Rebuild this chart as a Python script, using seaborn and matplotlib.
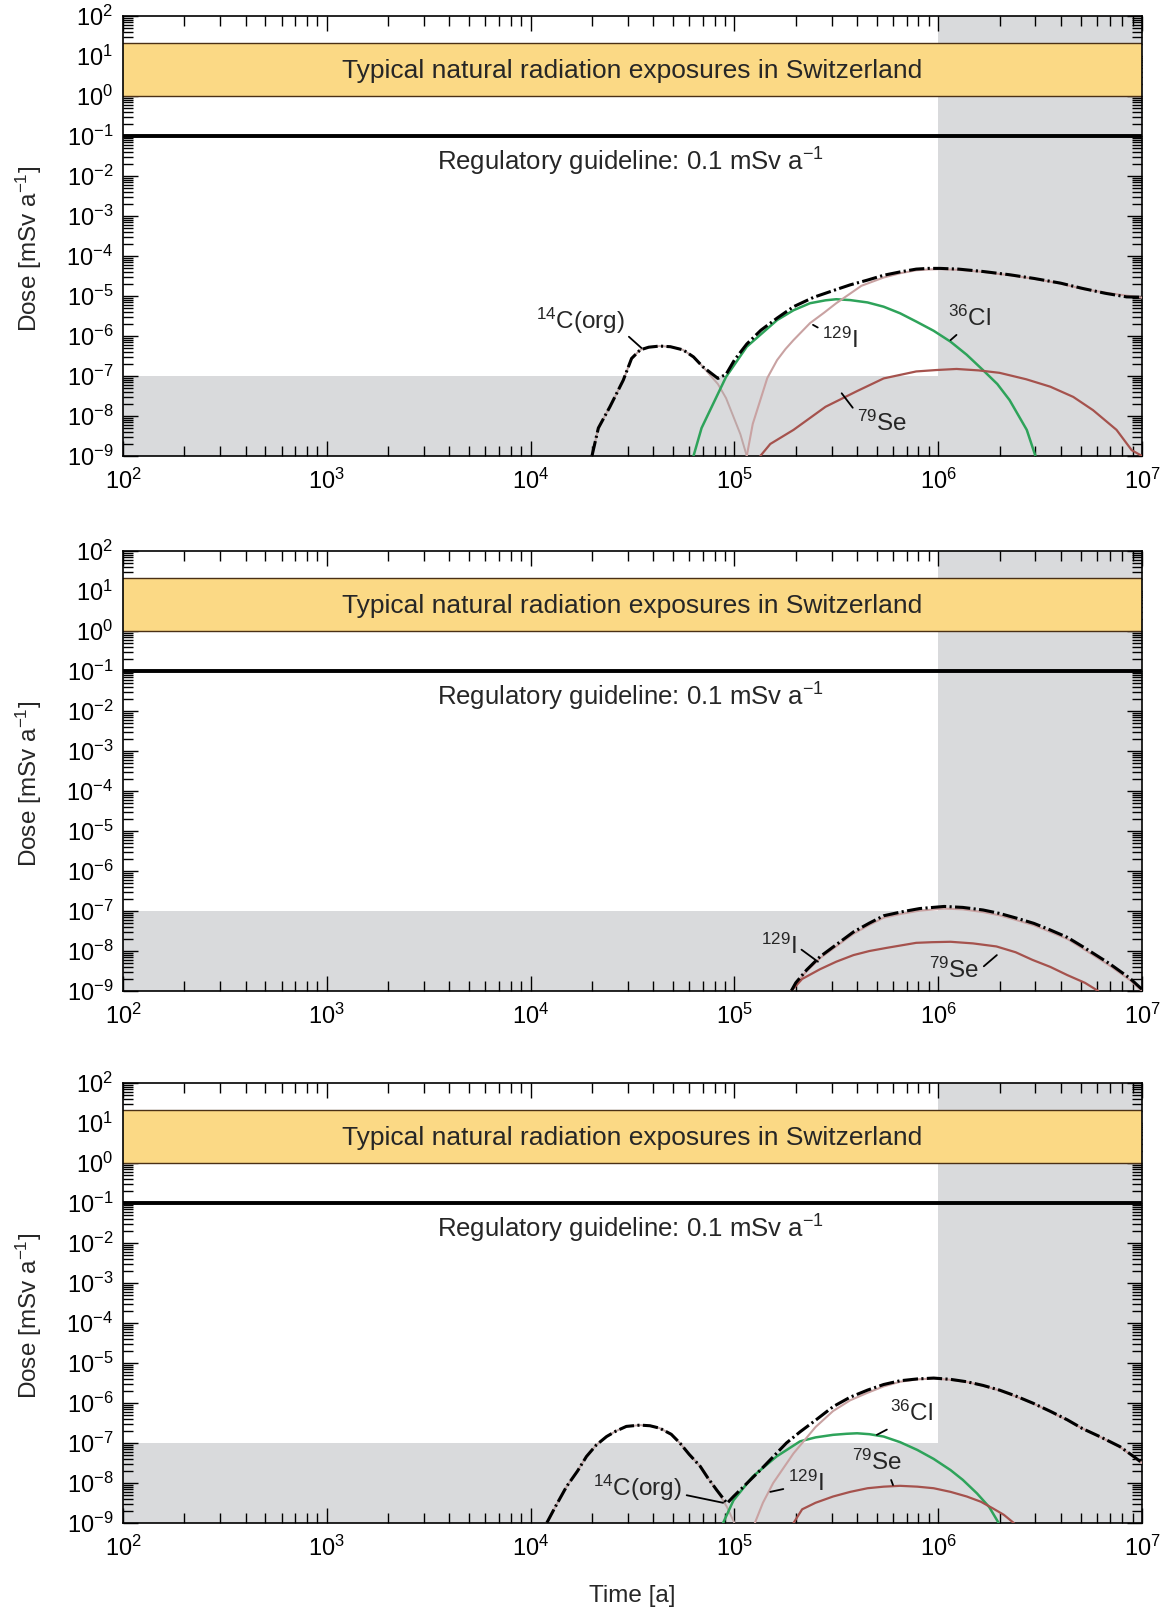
import seaborn as sns
import matplotlib.pyplot as plt
import matplotlib.transforms as mtransforms
from matplotlib.ticker import LogLocator, NullFormatter


sns.set_theme(style="ticks")
plt.rcParams["font.family"] = ["Liberation Sans", "DejaVu Sans"]
plt.rcParams["mathtext.default"] = "regular"

# colours
GREY = "#d9dadc"
BAND = "#fbd985"
BAND_EDGE = "#4a3015"
C_CL = "#2ea35a"
C_I = "#c9a2a2"
C_C14 = "#bfa6a6"
C_SE = "#a5524d"

# reference levels
band_lo, band_hi = 1.0, 21.0
guideline = 0.1
low_dose = 1e-7
late_time = 1e6

# ---- panel 1 ----
t_c14_1 = [2.0e4, 2.15e4, 2.45e4, 2.85e4, 3.13e4, 3.45e4, 3.8e4, 4.3e4, 4.85e4, 5.6e4, 6.3e4, 7.0e4, 8.3e4, 9.1e4,
           9.9e4, 1.07e5, 1.15e5]
d_c14_1 = [1e-9, 5e-9, 1.7e-8, 7.9e-8, 2.75e-7, 4.5e-7, 5.25e-7, 5.6e-7, 5.4e-7, 4.5e-7, 3.0e-7, 1.7e-7, 6.3e-8, 2.8e-8,
           9.5e-9, 3.5e-9, 1e-9]

t_cl_1 = [6.3e4, 6.9e4, 7.6e4, 9.1e4, 1.15e5, 1.62e5, 1.95e5, 2.35e5, 2.8e5, 3.16e5, 3.7e5, 4.5e5, 5.4e5, 6.5e5,
          7.8e5, 9.5e5, 1.15e6, 1.38e6, 1.66e6, 1.95e6, 2.24e6, 2.72e6, 3.0e6]
d_cl_1 = [1e-9, 5e-9, 1.4e-8, 9.5e-8, 5.4e-7, 2.5e-6, 4.4e-6, 6.6e-6, 7.8e-6, 8.3e-6, 7.9e-6, 6.9e-6, 5.4e-6, 3.7e-6,
          2.3e-6, 1.35e-6, 7.2e-7, 3.4e-7, 1.4e-7, 6.3e-8, 2.5e-8, 4.5e-9, 1e-9]

t_i_1 = [1.15e5, 1.23e5, 1.34e5, 1.45e5, 1.62e5, 1.78e5, 1.95e5, 2.35e5, 2.75e5, 3.16e5, 3.7e5, 4.2e5, 5.4e5, 6.5e5,
         7.8e5, 8.9e5, 1.02e6, 1.26e6, 1.66e6, 2.24e6, 2.95e6, 3.98e6, 5.1e6, 7.1e6, 1.0e7]
d_i_1 = [1e-9, 6.3e-9, 2.5e-8, 8.9e-8, 2.5e-7, 4.7e-7, 7.9e-7, 2.1e-6, 3.8e-6, 6.6e-6, 1.15e-5, 1.8e-5, 2.9e-5, 3.7e-5,
         4.4e-5, 4.6e-5, 4.7e-5, 4.5e-5, 4.0e-5, 3.3e-5, 2.7e-5, 2.05e-5, 1.5e-5, 1.15e-5, 9.1e-6]

t_se_1 = [1.34e5, 1.5e5, 1.95e5, 2.8e5, 4.0e5, 5.4e5, 7.8e5, 9.8e5, 1.23e6, 1.58e6, 2.0e6, 2.7e6, 3.55e6, 4.6e6,
          5.75e6, 7.5e6, 8.9e6, 1.0e7]
d_se_1 = [1e-9, 2e-9, 4.5e-9, 1.7e-8, 4.2e-8, 8.7e-8, 1.3e-7, 1.41e-7, 1.5e-7, 1.38e-7, 1.2e-7, 8.3e-8, 5.4e-8, 3.0e-8,
          1.4e-8, 4.5e-9, 1.4e-9, 1e-9]

t_tot_1 = [2.0e4, 2.15e4, 2.45e4, 2.85e4, 3.13e4, 3.45e4, 3.8e4, 4.3e4, 4.85e4, 5.6e4, 6.3e4, 7.0e4, 8.3e4, 9.1e4,
           1.0e5, 1.15e5, 1.35e5, 1.62e5, 1.95e5, 2.45e5, 3.16e5, 3.7e5, 4.5e5, 5.4e5, 6.5e5, 7.8e5, 8.9e5,
           1.02e6, 1.26e6, 1.66e6, 2.24e6, 2.95e6, 3.98e6, 5.1e6, 6.6e6, 8.4e6, 1.0e7]
d_tot_1 = [1e-9, 5e-9, 1.7e-8, 7.9e-8, 2.75e-7, 4.5e-7, 5.25e-7, 5.6e-7, 5.4e-7, 4.5e-7, 3.0e-7, 1.7e-7, 8.7e-8, 1.1e-7,
           2.5e-7, 6.3e-7, 1.4e-6, 2.8e-6, 5.4e-6, 9.3e-6, 1.45e-5, 1.9e-5, 2.5e-5, 3.3e-5, 4.0e-5, 4.7e-5, 4.9e-5,
           4.9e-5, 4.7e-5, 4.1e-5, 3.4e-5, 2.75e-5, 2.1e-5, 1.55e-5, 1.17e-5, 9.5e-6, 9.3e-6]

# ---- panel 2 ----
t_i_2 = [1.9e5, 2.0e5, 2.26e5, 2.63e5, 3.84e5, 4.6e5, 5.4e5, 6.6e5, 8.1e5, 1.07e6, 1.32e6, 1.66e6, 2.0e6, 2.43e6,
         2.95e6, 3.55e6, 4.3e6, 5.1e6, 6.9e6, 8.7e6, 1.0e7]
d_i_2 = [1e-9, 1.5e-9, 3.1e-9, 6.6e-9, 2.7e-8, 4.5e-8, 6.8e-8, 8.5e-8, 1.02e-7, 1.15e-7, 1.1e-7, 9.4e-8, 7.8e-8, 5.9e-8,
         4.4e-8, 3.0e-8, 2.0e-8, 1.17e-8, 4.4e-9, 1.9e-9, 1e-9]

t_se_2 = [1.9e5, 2.15e5, 2.63e5, 3.16e5, 3.84e5, 4.6e5, 5.6e5, 7.8e5, 9.3e5, 1.15e6, 1.48e6, 1.93e6, 2.4e6, 2.9e6,
          3.55e6, 4.3e6, 5.25e6, 6.1e6]
d_se_2 = [1e-9, 2e-9, 3.5e-9, 5.4e-9, 7.9e-9, 1e-8, 1.2e-8, 1.6e-8, 1.66e-8, 1.7e-8, 1.55e-8, 1.3e-8, 9.3e-9, 6e-9,
          4e-9, 2.5e-9, 1.6e-9, 1e-9]

t_tot_2 = [1.9e5, 2.0e5, 2.26e5, 2.63e5, 3.84e5, 4.6e5, 5.4e5, 6.6e5, 8.1e5, 1.07e6, 1.32e6, 1.66e6, 2.0e6, 2.43e6,
           2.95e6, 3.55e6, 4.3e6, 5.1e6, 6.9e6, 8.7e6, 1.0e7]
d_tot_2 = [1e-9, 1.6e-9, 3.35e-9, 7.2e-9, 3.0e-8, 5.0e-8, 7.6e-8, 9.5e-8, 1.15e-7, 1.3e-7, 1.23e-7, 1.06e-7, 8.7e-8,
           6.6e-8, 4.9e-8, 3.35e-8, 2.2e-8, 1.3e-8, 4.9e-9, 2.1e-9, 1.1e-9]

# ---- panel 3 ----
t_c14_3 = [1.2e4, 1.32e4, 1.5e4, 1.7e4, 1.88e4, 2.1e4, 2.36e4, 2.63e4, 2.95e4, 3.44e4, 3.85e4, 4.3e4, 4.9e4, 5.4e4,
           6.0e4, 6.8e4, 7.4e4, 8.2e4, 9.2e4, 1.0e5]
d_c14_3 = [1e-9, 2.5e-9, 8.1e-9, 2e-8, 4.6e-8, 8.9e-8, 1.45e-7, 2.0e-7, 2.6e-7, 2.8e-7, 2.7e-7, 2.35e-7, 1.65e-7, 1e-7,
           5.2e-8, 2.6e-8, 1.35e-8, 6.6e-9, 2.5e-9, 1e-9]

t_cl_3 = [8.8e4, 9.9e4, 1.23e5, 1.61e5, 2.1e5, 2.5e5, 3.05e5, 3.55e5, 4.0e5, 4.6e5, 5.4e5, 6.5e5, 7.9e5, 9.5e5,
          1.15e6, 1.32e6, 1.55e6, 1.78e6, 1.98e6]
d_cl_3 = [1e-9, 3.7e-9, 1.45e-8, 4.6e-8, 1.1e-7, 1.38e-7, 1.6e-7, 1.7e-7, 1.75e-7, 1.66e-7, 1.45e-7, 1.05e-7, 6.7e-8,
          4e-8, 2.1e-8, 1.2e-8, 5.5e-9, 2.5e-9, 1e-9]

t_i_3 = [1.26e5, 1.38e5, 1.55e5, 1.95e5, 2.5e5, 3.05e5, 3.7e5, 4.5e5, 5.4e5, 6.5e5, 7.9e5, 9.5e5, 1.15e6, 1.38e6,
         1.66e6, 2.0e6, 2.4e6, 2.93e6, 3.55e6, 4.3e6, 5.1e6, 6.2e6, 7.8e6, 9.1e6, 1.0e7]
d_i_3 = [1e-9, 3.2e-9, 1e-8, 5.5e-8, 2.5e-7, 6.3e-7, 1.17e-6, 1.8e-6, 2.6e-6, 3.4e-6, 3.9e-6, 4.1e-6, 3.8e-6, 3.35e-6,
         2.7e-6, 2.05e-6, 1.45e-6, 9.7e-7, 6.0e-7, 3.7e-7, 2.3e-7, 1.43e-7, 7.9e-8, 4.5e-8, 3.15e-8]

t_se_3 = [1.95e5, 2.15e5, 2.5e5, 3.05e5, 3.7e5, 4.5e5, 5.4e5, 6.5e5, 7.9e5, 9.5e5, 1.15e6, 1.38e6, 1.62e6, 1.86e6,
          2.1e6, 2.35e6]
d_se_3 = [1e-9, 2.2e-9, 3.2e-9, 4.6e-9, 6e-9, 7.4e-9, 8.1e-9, 8.5e-9, 8.1e-9, 7.4e-9, 6e-9, 4.6e-9, 3.4e-9, 2.3e-9,
          1.6e-9, 1e-9]

t_tot_3 = [1.2e4, 1.32e4, 1.5e4, 1.7e4, 1.88e4, 2.1e4, 2.36e4, 2.63e4, 2.95e4, 3.44e4, 3.85e4, 4.3e4, 4.9e4, 5.4e4,
           6.0e4, 6.8e4, 7.4e4, 8.2e4, 9.2e4, 9.9e4, 1.34e5, 1.8e5, 2.1e5, 2.5e5, 3.05e5, 3.7e5, 4.5e5, 5.4e5, 6.5e5,
           7.9e5, 9.5e5, 1.15e6, 1.38e6, 1.66e6, 2.0e6, 2.4e6, 2.93e6, 3.55e6, 4.3e6, 5.1e6, 6.2e6, 7.8e6, 9.1e6, 1.0e7]
d_tot_3 = [1e-9, 2.5e-9, 8.1e-9, 2e-8, 4.6e-8, 8.9e-8, 1.45e-7, 2.0e-7, 2.6e-7, 2.8e-7, 2.7e-7, 2.35e-7, 1.65e-7, 1e-7,
           5.2e-8, 2.6e-8, 1.35e-8, 6.6e-9, 3.1e-9, 4.6e-9, 2.1e-8, 1e-7, 1.9e-7, 3.7e-7, 8.1e-7, 1.4e-6, 2.1e-6, 2.9e-6,
           3.6e-6, 4.0e-6, 4.2e-6, 3.9e-6, 3.4e-6, 2.75e-6, 2.1e-6, 1.5e-6, 9.8e-7, 6.2e-7, 3.8e-7, 2.3e-7, 1.45e-7,
           8.1e-8, 4.6e-8, 3.2e-8]

# label, text position, curve point, where leader leaves the text
notes_1 = [
    (r"$^{14}$C(org)", (1.75e4, 2.4e-6), (3.5e4, 5e-7), (1, 0.1)),
    (r"$^{129}$I", (3.3e5, 7.9e-7), (2.43e5, 1.9e-6), (0, 0.9)),
    (r"$^{36}$Cl", (1.43e6, 2.8e-6), (1.15e6, 7.9e-7), (0.3, 0)),
    (r"$^{79}$Se", (5.3e5, 6.6e-9), (3.36e5, 3.7e-8), (0, 0.9)),
]
notes_2 = [
    (r"$^{129}$I", (1.66e5, 1.3e-8), (2.57e5, 5.4e-9), (1, 0.5)),
    (r"$^{79}$Se", (1.2e6, 3.35e-9), (1.94e6, 7.9e-9), (1, 0.5)),
]
notes_3 = [
    (r"$^{14}$C(org)", (3.35e4, 7.4e-9), (8.8e4, 3.2e-9), (1, 0.3)),
    (r"$^{129}$I", (2.24e5, 1e-8), (1.5e5, 6e-9), (0, 0.3)),
    (r"$^{36}$Cl", (7.4e5, 5.6e-7), (5e5, 1.6e-7), (0.1, 0)),
    (r"$^{79}$Se", (5e5, 3.2e-8), (6e5, 8.9e-9), (0.75, 0)),
]

panels = [
    dict(bottom=1 - 456 / 1613,
         thin=[(t_c14_1, d_c14_1, C_C14, 1.4), (t_cl_1, d_cl_1, C_CL, 1.8),
               (t_i_1, d_i_1, C_I, 1.5), (t_se_1, d_se_1, C_SE, 1.6)],
         total=(t_tot_1, d_tot_1), notes=notes_1),
    dict(bottom=1 - 991 / 1613,
         thin=[(t_i_2, d_i_2, C_I, 1.5), (t_se_2, d_se_2, C_SE, 1.6)],
         total=(t_tot_2, d_tot_2), notes=notes_2),
    dict(bottom=1 - 1523 / 1613,
         thin=[(t_c14_3, d_c14_3, C_C14, 1.4), (t_cl_3, d_cl_3, C_CL, 1.8),
               (t_i_3, d_i_3, C_I, 1.5), (t_se_3, d_se_3, C_SE, 1.6)],
         total=(t_tot_3, d_tot_3), notes=notes_3),
]

fig = plt.figure(figsize=(11.71, 16.13), dpi=100)

for k, p in enumerate(panels):
    ax = fig.add_axes([123 / 1171, p["bottom"], 1019 / 1171, 440 / 1613])
    ax.set_xscale("log")
    ax.set_yscale("log")
    ax.set_xlim(1e2, 1e7)
    ax.set_ylim(1e-9, 1e2)

    # shaded regions, natural band, guideline
    ax.axvspan(late_time, 1e7, color=GREY, lw=0, zorder=0)
    ax.axhspan(1e-9, low_dose, color=GREY, lw=0, zorder=0)
    ax.axhspan(band_lo, band_hi, facecolor=BAND, edgecolor="none", zorder=1)
    ax.axhline(band_lo, color=BAND_EDGE, lw=1.0, zorder=1.5)
    ax.axhline(band_hi, color=BAND_EDGE, lw=1.0, zorder=1.5)
    ax.axhline(guideline, color="black", lw=2.8, zorder=2)

    mid = mtransforms.blended_transform_factory(ax.transAxes, ax.transData)
    ax.text(0.5, 4.3, "Typical natural radiation exposures in Switzerland",
            transform=mid, ha="center", va="center", fontsize=19, zorder=5)
    ax.text(0.4975, 0.023, "Regulatory guideline: 0.1 mSv a$^{-1}$",
            transform=mid, ha="center", va="center", fontsize=18.5, zorder=5)

    for t, d, c, w in p["thin"]:
        sns.lineplot(x=t, y=d, ax=ax, color=c, lw=w, estimator=None,
                     sort=False, legend=False, zorder=3)
    tt, dd = p["total"]
    sns.lineplot(x=tt, y=dd, ax=ax, color="black", lw=2.2, estimator=None,
                 sort=False, legend=False, zorder=4,
                 linestyle=(0, (5, 1.1, 0.7, 1.1)))

    for label, txt, pt, rel in p["notes"]:
        ax.annotate(label, xy=pt, xytext=txt, ha="center", va="center",
                    fontsize=17.5, zorder=6,
                    arrowprops=dict(arrowstyle="-", color="black", lw=1.3,
                                    shrinkA=1, shrinkB=0, relpos=rel))

    ax.xaxis.set_major_locator(LogLocator(base=10, numticks=10))
    ax.xaxis.set_minor_locator(LogLocator(base=10, subs=range(2, 10), numticks=20))
    ax.yaxis.set_major_locator(LogLocator(base=10, numticks=20))
    ax.yaxis.set_minor_locator(LogLocator(base=10, subs=range(2, 10), numticks=30))
    ax.xaxis.set_minor_formatter(NullFormatter())
    ax.yaxis.set_minor_formatter(NullFormatter())
    ax.tick_params(which="both", direction="in", top=True, right=True,
                   width=1.0, colors="black", labelsize=17)
    ax.tick_params(which="major", length=11)
    ax.tick_params(which="minor", length=7)
    ax.tick_params(axis="x", pad=9)
    ax.tick_params(axis="y", pad=7)
    for s in ax.spines.values():
        s.set_linewidth(1.2)
        s.set_color("black")

    ax.set_xlabel("")
    ax.set_ylabel("Dose [mSv a$^{-1}$]", fontsize=17.5)
    ax.yaxis.set_label_coords(-0.078, 0.47)
    if k == 2:
        ax.set_xlabel("Time [a]", fontsize=17.5)
        ax.xaxis.set_label_coords(0.5, -0.14)

fig.savefig("out.png", dpi=100, facecolor="white")
